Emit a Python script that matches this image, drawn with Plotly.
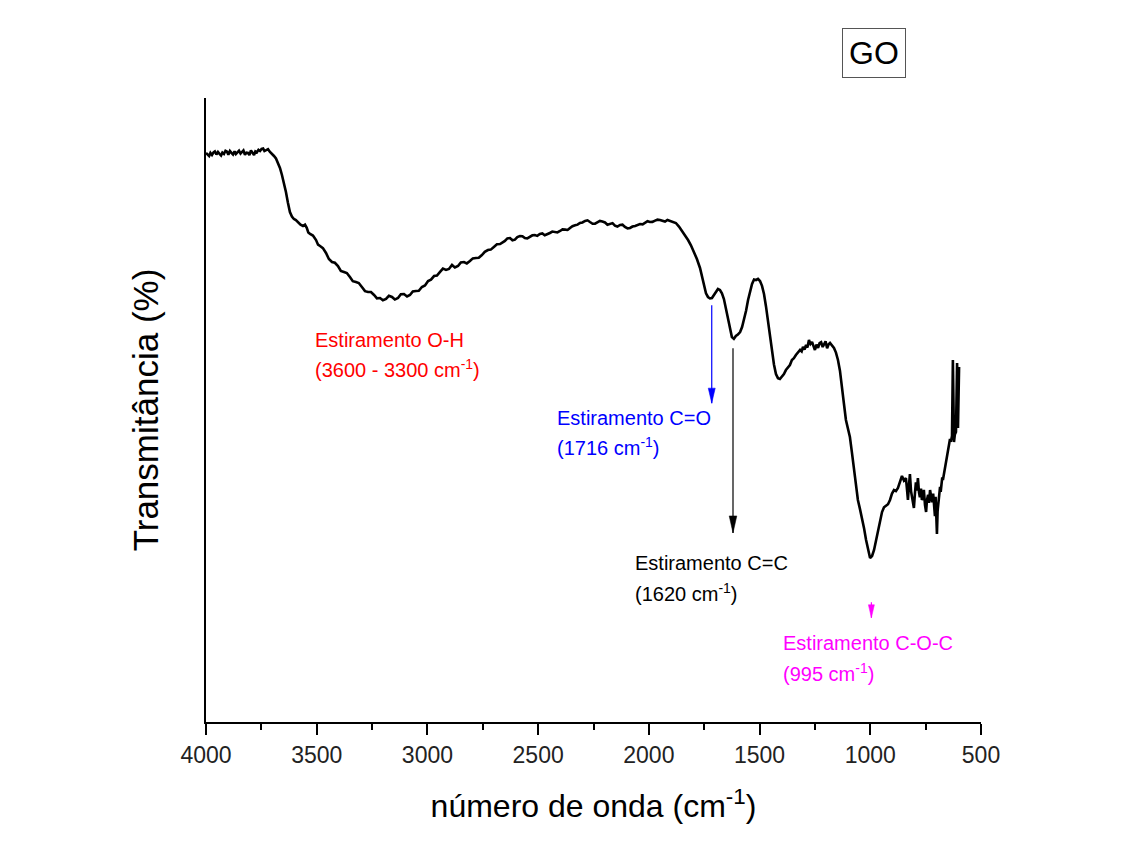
import plotly.graph_objects as go

# FTIR spectrum of graphene oxide (GO): wavenumber (cm-1) vs transmittance (a.u.)
wavenumber = [
    4000, 3993, 3986, 3980, 3973, 3966, 3960, 3953, 3946, 3939, 3932, 3926,
    3919, 3912, 3905, 3899, 3892, 3885, 3878, 3871, 3865, 3858, 3851, 3844,
    3837, 3831, 3824, 3817, 3810, 3804, 3797, 3790, 3783, 3777, 3770, 3763,
    3756, 3749, 3742, 3736, 3729, 3720, 3711, 3702, 3693, 3684, 3675, 3666,
    3657, 3648, 3639, 3630, 3621, 3612, 3603, 3594, 3585, 3573, 3562, 3553,
    3545, 3538, 3530, 3517, 3503, 3494, 3485, 3472, 3458, 3445, 3431, 3418,
    3404, 3391, 3377, 3364, 3350, 3337, 3323, 3310, 3296, 3282, 3268, 3255,
    3241, 3228, 3214, 3201, 3187, 3174, 3160, 3147, 3133, 3120, 3106, 3092,
    3079, 3066, 3052, 3039, 3025, 3011, 2997, 2984, 2970, 2957, 2943, 2930,
    2916, 2903, 2889, 2876, 2862, 2849, 2835, 2822, 2808, 2795, 2781, 2768,
    2754, 2741, 2727, 2714, 2700, 2686, 2672, 2661, 2650, 2639, 2627, 2616,
    2605, 2594, 2582, 2571, 2560, 2549, 2537, 2526, 2515, 2504, 2492, 2481,
    2470, 2458, 2447, 2436, 2424, 2413, 2401, 2390, 2378, 2367, 2356, 2345,
    2333, 2322, 2311, 2300, 2288, 2277, 2266, 2254, 2243, 2232, 2221, 2210,
    2198, 2187, 2176, 2164, 2153, 2142, 2130, 2119, 2108, 2096, 2085, 2074,
    2062, 2051, 2040, 2028, 2017, 2006, 1995, 1984, 1972, 1961, 1950, 1938,
    1927, 1916, 1905, 1892, 1878, 1864, 1850, 1837, 1823, 1810, 1796, 1783,
    1769, 1760, 1751, 1742, 1733, 1724, 1715, 1706, 1697, 1688, 1679, 1670,
    1661, 1652, 1643, 1634, 1625, 1616, 1607, 1598, 1588, 1579, 1570, 1561,
    1552, 1543, 1534, 1525, 1516, 1507, 1498, 1489, 1480, 1471, 1462, 1453,
    1444, 1435, 1426, 1417, 1408, 1399, 1390, 1381, 1372, 1363, 1354, 1345,
    1336, 1326, 1317, 1310, 1304, 1297, 1290, 1284, 1277, 1270, 1263, 1256,
    1250, 1243, 1236, 1229, 1222, 1215, 1209, 1202, 1195, 1188, 1182, 1173,
    1164, 1155, 1146, 1137, 1128, 1119, 1110, 1101, 1092, 1083, 1074, 1065,
    1056, 1047, 1038, 1028, 1019, 1010, 1001, 992, 983, 974, 965, 956,
    947, 938, 929, 920, 911, 902, 893, 884, 875, 866, 857, 848,
    839, 834, 830, 825, 821, 816, 812, 807, 803, 798, 794, 789,
    785, 780, 776, 771, 767, 762, 758, 753, 748, 744, 739, 735,
    730, 726, 721, 716, 712, 708, 705, 702, 699, 696, 692, 688,
    685, 682, 678, 675, 672, 668, 665, 661, 658, 654, 649, 645,
    640, 636, 631, 627, 622, 618, 613, 608, 604, 599,
]
transmittance = [
    91.19, 90.85, 90.71, 91.20, 90.87, 91.30, 91.45, 90.95, 91.35, 91.05, 90.80, 91.25,
    91.03, 91.55, 91.40, 90.90, 91.51, 91.20, 90.95, 91.45, 91.03, 91.30, 91.55, 91.10,
    91.35, 91.60, 90.90, 91.25, 91.19, 90.85, 91.60, 91.20, 90.87, 91.45, 91.30, 91.70,
    91.51, 91.85, 91.90, 91.50, 91.67, 91.80, 91.35, 91.10, 90.71, 90.30, 89.58, 88.80,
    87.66, 86.40, 84.94, 83.20, 81.73, 81.00, 80.61, 80.45, 80.13, 79.70, 79.49, 79.70,
    79.20, 78.45, 78.21, 77.95, 77.24, 76.50, 76.28, 75.95, 75.16, 74.20, 73.72, 73.60,
    73.08, 72.30, 72.12, 71.95, 71.31, 70.65, 70.51, 70.35, 69.71, 69.05, 68.91, 68.90,
    68.43, 67.90, 67.95, 67.60, 67.79, 68.30, 68.11, 67.70, 67.95, 68.55, 68.59, 68.20,
    68.43, 69.00, 69.07, 69.10, 69.71, 69.95, 70.67, 70.90, 71.47, 71.55, 72.12, 72.65,
    72.44, 72.60, 73.24, 72.85, 73.08, 73.65, 73.72, 73.50, 73.88, 74.30, 74.36, 74.40,
    74.84, 75.35, 75.64, 75.70, 76.12, 76.55, 76.60, 76.85, 77.10, 77.50, 77.56, 77.20,
    77.30, 77.70, 77.88, 77.85, 77.55, 77.50, 77.72, 78.00, 78.05, 77.90, 78.21, 78.30,
    78.00, 78.15, 78.37, 78.60, 78.55, 78.45, 78.69, 78.95, 78.90, 78.85, 79.17, 79.45,
    79.60, 79.70, 79.97, 80.05, 80.30, 80.40, 80.13, 79.85, 79.85, 80.10, 80.29, 80.20,
    80.05, 79.70, 79.81, 79.95, 79.55, 79.40, 79.65, 79.70, 79.35, 79.10, 79.17, 79.40,
    79.50, 79.65, 79.81, 79.75, 80.00, 80.25, 80.13, 80.15, 80.35, 80.50, 80.45, 80.30,
    80.20, 80.45, 80.29, 80.15, 79.97, 79.40, 78.69, 78.00, 77.24, 76.40, 75.32, 74.20,
    72.76, 71.30, 69.87, 68.70, 68.11, 67.90, 67.95, 68.40, 68.91, 69.40, 69.23, 68.70,
    67.79, 66.30, 64.74, 63.10, 61.70, 61.40, 61.86, 62.10, 62.50, 63.30, 64.42, 65.90,
    67.63, 69.10, 70.19, 70.90, 70.83, 71.00, 70.67, 69.90, 68.59, 66.60, 64.42, 61.90,
    59.29, 57.30, 55.77, 55.10, 54.97, 55.30, 55.77, 56.40, 56.89, 57.20, 58.01, 58.30,
    58.81, 59.30, 59.62, 59.40, 60.10, 59.70, 60.42, 60.00, 61.22, 60.60, 60.90, 60.20,
    59.62, 60.50, 59.94, 60.70, 60.85, 60.10, 60.42, 61.00, 59.90, 60.55, 60.74, 60.30,
    59.94, 59.20, 58.01, 56.30, 54.01, 51.00, 48.40, 47.00, 45.67, 43.20, 40.38, 37.80,
    35.58, 34.20, 32.85, 31.00, 29.17, 27.60, 26.28, 26.60, 27.56, 29.10, 30.77, 32.40,
    33.65, 34.40, 34.62, 34.90, 35.58, 36.60, 37.18, 37.00, 37.50, 38.60, 39.42, 38.70,
    39.10, 37.20, 35.58, 38.10, 39.74, 37.00, 36.20, 35.40, 34.29, 36.80, 38.40, 37.10,
    39.10, 36.80, 36.00, 37.40, 35.58, 35.90, 37.20, 34.80, 33.65, 35.60, 36.40, 35.10,
    37.18, 36.30, 35.20, 36.60, 34.94, 33.00, 36.10, 33.40, 30.13, 33.80, 35.00, 36.50,
    37.66, 36.90, 38.20, 39.20, 38.78, 39.60, 40.20, 41.20, 41.67, 42.40, 43.10, 44.30,
    45.35, 44.90, 45.83, 58.01, 44.87, 46.10, 46.47, 57.53, 47.12, 56.89,
]

# Assigned bands: label lines, peak position and colour
band_labels = [
    ["Estiramento O-H", "(3600 - 3300 cm<sup>-1</sup>)"],
    ["Estiramento C=O", "(1716 cm<sup>-1</sup>)"],
    ["Estiramento C=C", "(1620 cm<sup>-1</sup>)"],
    ["Estiramento C-O-C", "(995 cm<sup>-1</sup>)"],
]
band_peaks = [None, 1716, 1620, 995]
band_colors = ["#ff0000", "#0000ff", "#000000", "#ff00ff"]

x_ticks = [4000, 3500, 3000, 2500, 2000, 1500, 1000, 500]

FONT = "Arial, 'Liberation Sans', sans-serif"

fig = go.Figure()
fig.add_trace(go.Scatter(
    x=wavenumber, y=transmittance, mode="lines",
    line=dict(color="black", width=2.6), showlegend=False,
))

# label text anchors (left edge, line centres), arrow spans and head sizes (px)
label_pos = [
    (3517, [61.2, 56.7]),
    (2424, [48.7, 44.1]),
    (2072, [25.5, 20.8]),
    (1403, [12.7, 8.0]),
]
arrow_span = [None, (66.8, 51.1), (59.9, 30.3), (19.2, 16.7)]
head_size = [None, (3.5, 15), (3.8, 17), (3.0, 13)]

annotations = []
shapes = []
for lines, peak, color, (lx, ly), span, head in zip(
        band_labels, band_peaks, band_colors, label_pos, arrow_span, head_size):
    for text, yy in zip(lines, ly):
        annotations.append(dict(
            x=lx, y=yy, xref="x", yref="y", text=text, showarrow=False,
            xanchor="left", yanchor="middle",
            font=dict(family=FONT, size=20, color=color),
        ))
    if peak is None:
        continue
    # shaft
    shapes.append(dict(
        type="line", xref="x", yref="y", x0=peak, x1=peak,
        y0=span[0], y1=span[1], line=dict(color=color, width=1.2),
    ))
    # narrow filled head, tip at the lower end of the shaft
    hw, hl = head
    shapes.append(dict(
        type="path", xref="x", yref="y",
        xsizemode="pixel", ysizemode="pixel",
        xanchor=peak, yanchor=span[1],
        path=f"M{-hw},{hl} L{hw},{hl} L0,0 Z",
        fillcolor=color, line=dict(color=color, width=0.5),
    ))

annotations.append(dict(
    x=0.862, y=1.072, xref="paper", yref="paper", text="GO", showarrow=False,
    xanchor="center", yanchor="middle",
    font=dict(family=FONT, size=32, color="black"),
    bordercolor="#555555", borderwidth=1, borderpad=6, bgcolor="white",
))

fig.update_layout(
    width=1127, height=865,
    margin=dict(l=206, r=146, t=98, b=143),
    paper_bgcolor="white", plot_bgcolor="white",
    font=dict(family=FONT, color="black"),
    annotations=annotations,
    shapes=shapes,
    xaxis=dict(
        range=[4000, 500], tickvals=x_ticks, ticktext=[str(v) for v in x_ticks],
        ticks="outside", ticklen=11, tickwidth=2, tickcolor="black",
        minor=dict(ticks="outside", ticklen=6, tickwidth=2, tickcolor="black",
                   tickvals=[3750, 3250, 2750, 2250, 1750, 1250, 750]),
        showline=True, linewidth=2, linecolor="black",
        showgrid=False, zeroline=False, automargin=False,
        tickfont=dict(family=FONT, size=23, color="#222222"),
        title=dict(text="número de onda (cm<sup>-1</sup>)", standoff=28,
                   font=dict(family=FONT, size=32, color="black")),
    ),
    yaxis=dict(
        range=[0, 100], showticklabels=False, ticks="",
        showline=True, linewidth=2, linecolor="black",
        showgrid=False, zeroline=False, automargin=False,
        title=dict(text="Transmitância (%)", standoff=35,
                   font=dict(family=FONT, size=35, color="black")),
    ),
)

fig.write_html("out.html")
